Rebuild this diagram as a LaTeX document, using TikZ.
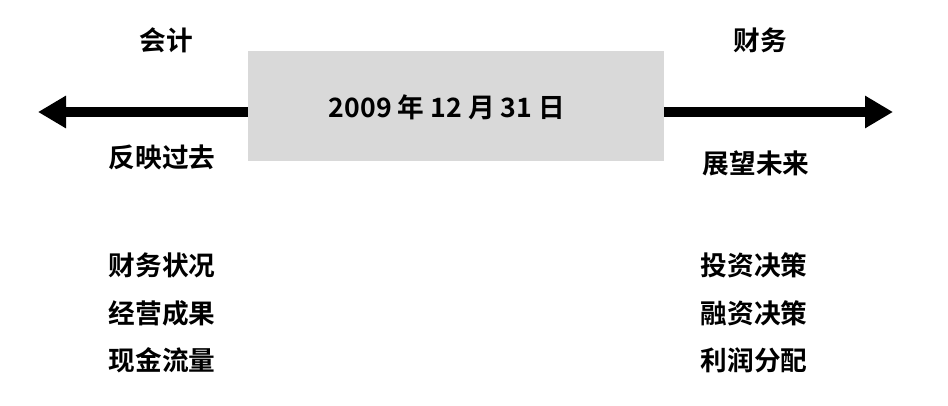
\documentclass[tikz,border=0pt]{standalone}
\usepackage{fontspec}
\newfontfamily\cjk{Noto Sans CJK SC}[BoldFont={Noto Sans CJK SC Bold}]
\usetikzlibrary{arrows.meta}
\tikzset{
  word/.style={font=\cjk\bfseries\fontsize{20}{22}\selectfont, inner sep=0pt},
  bigarrow/.style={line width=7.5pt, -{Triangle[length=21pt,width=23pt]}}
}
\begin{document}
\begin{tikzpicture}[x=0.75pt,y=-0.75pt]
\useasboundingbox (0,0) rectangle (948,406);
\node[fill=black!15, minimum width=312pt, minimum height=82pt, inner sep=0pt] (date) at (456,106){};
\node[word] (datetext) at (447,107){2009 年 12 月 31 日};
\coordinate (lefttip) at (38,112);
\coordinate (righttip) at (893,112);
\draw[bigarrow] (date.west |- lefttip) -- (lefttip);
\draw[bigarrow] (date.east |- righttip) -- (righttip);
\node[word] (acct) at (166,40){会计};
\node[word] (fin) at (760,40){财务};
\node[word] (past) at (162,157){反映过去};
\node[word] (future) at (756,163){展望未来};
\node[word] (l1) at (162,265){财务状况};
\node[word] (l2) at (162,313){经营成果};
\node[word] (l3) at (162,360){现金流量};
\node[word] (r1) at (754,265){投资决策};
\node[word] (r2) at (754,313){融资决策};
\node[word] (r3) at (754,360){利润分配};
\end{tikzpicture}
\end{document}
